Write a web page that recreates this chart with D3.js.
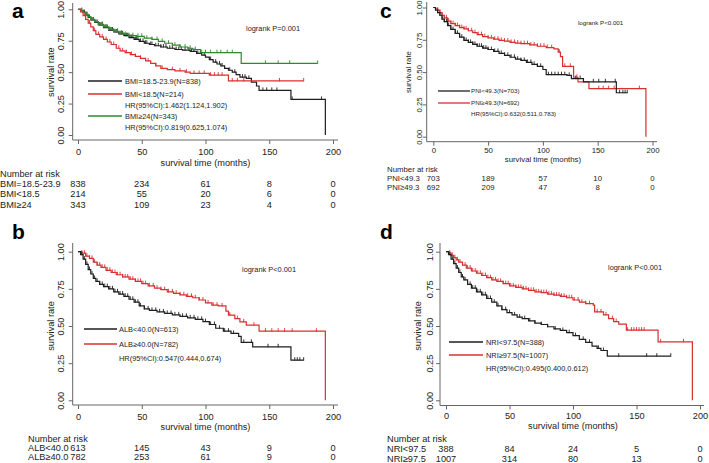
<!DOCTYPE html>
<html><head><meta charset="utf-8">
<script src="https://cdn.jsdelivr.net/npm/d3@7"></script>
<style>
body{margin:0;background:#fff}
svg{display:block}
text{font-family:"Liberation Sans",Arial,sans-serif;fill:#222}
</style>
</head><body>
<svg id="chart" width="709" height="463"></svg>
<script>
// ---------- shared ticks ----------
const timeTicks = [0, 50, 100, 150, 200];
const survTicks = [0, 0.25, 0.5, 0.75, 1];
const survTickLabels = ["0.00", "0.25", "0.50", "0.75", "1.00"];

// ---------- panel a : BMI ----------
const bmiNormalSteps = [[0,1],[2,0.99],[4,0.975],[6,0.955],[8,0.935],[10,0.915],[13,0.895],[16,0.875],[20,0.855],[24,0.835],[28,0.82],[32,0.805],[36,0.79],[40,0.775],[44,0.76],[48,0.745],[52,0.73],[56,0.72],[60,0.71],[65,0.70],[70,0.69],[76,0.68],[82,0.675],[88,0.665],[93,0.65],[97,0.635],[100,0.62],[103,0.60],[106,0.58],[109,0.565],[112,0.55],[115,0.53],[118,0.515],[121,0.50],[124,0.48],[127,0.46],[132,0.45],[136,0.42],[140,0.39],[142,0.355],[167,0.283],[194,0]];
const bmiLowSteps = [[0,1],[2,0.98],[4,0.95],[6,0.92],[8,0.89],[10,0.86],[12,0.83],[14,0.80],[17,0.78],[20,0.76],[23,0.74],[26,0.72],[30,0.69],[33,0.67],[37,0.655],[41,0.64],[45,0.625],[49,0.61],[53,0.59],[57,0.57],[61,0.55],[65,0.53],[70,0.52],[76,0.51],[84,0.50],[88,0.49],[103,0.476],[118,0.43],[177,0.43]];
const bmiHighSteps = [[0,1],[2,0.99],[4,0.975],[6,0.96],[8,0.94],[10,0.92],[13,0.90],[16,0.88],[20,0.86],[24,0.84],[28,0.825],[32,0.81],[36,0.80],[40,0.79],[46,0.785],[52,0.77],[58,0.76],[63,0.745],[68,0.73],[74,0.715],[80,0.70],[86,0.69],[90,0.68],[96,0.655],[128,0.57],[188,0.57]];
const bmiNormalCensor = [3,5,7,9,11,12,14,15,17,18,19,21,22,23,25,26,27,29,30,31,33,34,35,37,38,39,41,42,43,45,46,47,49,51,53,54,57,58,61,63,65,67,69,72,74,77,79,81,84,87,89,91,94,99,104,108,111,113,119,123,129,131,134,145,148,152,156,168,191];
const bmiLowCensor = [5,9,13,16,19,22,25,28,32,35,38,42,45,49,55,61,66,74,80,85,91,95,99,104,107,110,113,121,125,130,158,177];
const bmiHighCensor = [4,7,10,13,16,19,22,25,28,31,34,37,40,43,47,50,54,58,62,66,71,76,80,84,88,92,97,100,104,109,112,117,121,147,157,166,188];
const bmiRiskLabels = ["BMI=18.5-23.9", "BMI<18.5", "BMI\u226524"];
const bmiRisk = [[838,234,61,8,0],[214,55,20,6,0],[343,109,23,4,0]];
const bmiLegend = ["BMI=18.5-23.9(N=838)", "BMI<18.5(N=214)", "HR(95%CI):1.462(1.124,1.902)", "BMI\u226524(N=343)", "HR(95%CI):0.819(0.625,1.074)"];
const bmiP = "logrank P=0.001";

// ---------- panel b : ALB ----------
const albLowSteps = [[0,1],[2,0.98],[4,0.95],[6,0.915],[8,0.88],[10,0.85],[12,0.82],[14,0.80],[17,0.78],[20,0.765],[24,0.75],[28,0.73],[32,0.715],[36,0.70],[40,0.68],[44,0.66],[48,0.635],[52,0.615],[56,0.605],[62,0.595],[68,0.585],[74,0.575],[80,0.565],[86,0.555],[92,0.545],[98,0.53],[103,0.51],[108,0.485],[114,0.465],[120,0.45],[126,0.43],[128,0.39],[137,0.36],[167,0.27],[177,0.27]];
const albHighSteps = [[0,1],[3,0.99],[6,0.97],[9,0.955],[12,0.93],[15,0.91],[18,0.895],[22,0.875],[26,0.86],[30,0.845],[35,0.83],[40,0.815],[45,0.80],[50,0.785],[55,0.77],[60,0.755],[65,0.745],[70,0.73],[75,0.72],[80,0.71],[85,0.70],[90,0.69],[95,0.675],[100,0.655],[105,0.64],[110,0.635],[116,0.60],[118,0.573],[123,0.55],[127,0.528],[132,0.506],[142,0.465],[194,0]];
const albLowCensor = [3,5,7,9,11,13,15,17,19,21,23,25,27,29,31,33,35,37,39,41,43,45,47,49,52,55,58,61,64,67,70,73,76,79,82,85,88,91,94,97,100,104,107,111,115,118,122,130,136,149,157,170,172,174,177];
const albHighCensor = [3,5,7,9,11,13,15,17,19,21,23,25,27,29,31,33,35,37,39,41,43,45,47,49,51,53,56,59,62,65,68,71,74,77,80,83,86,89,92,95,98,102,106,109,113,119,125,130,138,147,152,157,162,168,187];
const albRiskLabels = ["ALB<40.0", "ALB\u226540.0"];
const albRisk = [[613,145,43,9,0],[782,253,61,9,0]];
const albLegend = ["ALB<40.0(N=613)", "ALB\u226540.0(N=782)", "HR(95%CI):0.547(0.444,0.674)"];
const albP = "logrank P<0.001";

// ---------- panel c : PNI ----------
const pniLowSteps = [[0,1],[2,0.98],[4,0.96],[6,0.94],[8,0.91],[10,0.89],[13,0.86],[16,0.83],[20,0.80],[24,0.77],[28,0.745],[32,0.73],[36,0.715],[40,0.70],[45,0.685],[50,0.675],[55,0.66],[60,0.645],[65,0.63],[70,0.615],[75,0.60],[80,0.59],[85,0.575],[90,0.56],[95,0.545],[100,0.52],[103,0.48],[122,0.475],[126,0.45],[137,0.425],[167,0.34],[177,0.34]];
const pniHighSteps = [[0,1],[2,0.99],[4,0.98],[6,0.96],[8,0.94],[10,0.92],[13,0.895],[16,0.875],[20,0.86],[24,0.845],[28,0.835],[32,0.82],[36,0.805],[40,0.79],[45,0.775],[50,0.765],[55,0.755],[60,0.745],[65,0.74],[70,0.73],[75,0.725],[80,0.72],[88,0.71],[95,0.70],[103,0.69],[110,0.68],[114,0.655],[116,0.62],[118,0.545],[128,0.46],[132,0.425],[142,0.372],[194,0]];
const pniLowCensor = [4,6,8,10,12,14,16,18,20,22,24,26,28,30,32,34,36,38,40,42,44,46,48,50,53,56,59,62,65,68,71,74,77,80,83,86,89,92,95,98,105,108,111,114,117,120,124,130,134,146,151,157,166,170,173,175,177];
const pniHighCensor = [4,6,8,10,12,14,16,18,20,22,24,26,28,30,32,35,38,41,44,47,50,53,56,59,62,65,68,71,74,77,80,83,86,89,92,95,98,101,104,108,115,120,125,131,151,155,160,165,188];
const pniRiskLabels = ["PNI<49.3", "PNI\u226549.3"];
const pniRisk = [[703,189,57,10,0],[692,209,47,8,0]];
const pniLegend = ["PNI<49.3(N=703)", "PNI\u226549.3(N=692)", "HR(95%CI):0.632(0.511,0.783)"];
const pniP = "logrank P<0.001";

// ---------- panel d : NRI ----------
const nriLowSteps = [[0,1],[2,0.98],[4,0.95],[6,0.92],[8,0.89],[10,0.86],[12,0.83],[14,0.81],[17,0.78],[20,0.755],[24,0.73],[28,0.71],[32,0.685],[36,0.66],[40,0.635],[44,0.61],[48,0.59],[52,0.575],[56,0.56],[60,0.55],[65,0.535],[70,0.52],[75,0.51],[80,0.495],[85,0.48],[90,0.47],[95,0.455],[100,0.435],[105,0.41],[110,0.39],[115,0.365],[119,0.35],[122,0.335],[127,0.297],[177,0.297]];
const nriHighSteps = [[0,1],[2,0.99],[4,0.975],[6,0.96],[8,0.945],[10,0.93],[13,0.91],[16,0.89],[20,0.87],[24,0.855],[28,0.84],[32,0.825],[36,0.81],[40,0.80],[45,0.785],[50,0.77],[55,0.76],[60,0.75],[65,0.74],[70,0.73],[75,0.725],[80,0.715],[85,0.708],[90,0.70],[95,0.69],[100,0.675],[105,0.66],[110,0.65],[116,0.64],[117,0.595],[124,0.575],[128,0.55],[132,0.53],[136,0.513],[142,0.472],[167,0.393],[194,0]];
const nriLowCensor = [3,5,7,9,11,13,15,17,19,21,23,25,27,29,31,33,35,38,41,44,47,50,54,58,62,66,70,75,80,86,92,97,102,108,113,120,124,136,158,166,177];
const nriHighCensor = [3,5,7,9,11,13,15,17,19,21,23,25,27,29,31,33,35,37,39,41,43,45,47,49,51,53,55,57,59,61,63,65,67,69,71,73,75,77,79,81,83,85,87,89,91,93,95,97,99,101,104,107,110,113,119,122,126,131,134,143,146,148,150,152,154,156,169,187];
const nriRiskLabels = ["NRI<97.5", "NRI\u226597.5"];
const nriRisk = [[388,84,24,5,0],[1007,314,80,13,0]];
const nriLegend = ["NRI<97.5(N=388)", "NRI\u226597.5(N=1007)", "HR(95%CI):0.495(0.400,0.612)"];
const nriP = "logrank P<0.001";

// ---------- colours ----------
const BLACK = "#1e1e1e", RED = "#d8302f", GREEN = "#2f8a2f";

const svg = d3.select("#chart");

function survAt(steps, t) {
  const i = d3.bisector(d => d[0]).right(steps, t) - 1;
  return steps[Math.max(0, i)][1];
}

function drawPanel(c) {
  const g = svg.append("g");
  const x = d3.scaleLinear().domain([0, 200]).range(c.xr);
  const y = d3.scaleLinear().domain([0, 1]).range(c.yr);
  const fs = c.fs;

  // panel letter
  g.append("text").attr("x", c.letter[1]).attr("y", c.letter[2])
    .style("font-size", "21px").style("font-weight", "bold").style("fill", "#000").text(c.letter[0]);

  // frame (L shape)
  g.append("path").attr("d", `M${c.frame.l},${c.frame.t}V${c.frame.b}H${c.frame.r}`)
    .attr("fill", "none").attr("stroke", "#666").attr("stroke-width", 1);

  // x axis
  const pad = c.xLabC - c.frame.b - 4 - 0.355 * fs;
  const xa = g.append("g").attr("transform", `translate(0,${c.frame.b})`)
    .call(d3.axisBottom(x).tickValues(timeTicks).tickSize(4).tickPadding(pad));
  xa.select(".domain").remove();
  xa.selectAll("line").attr("stroke", "#666");
  xa.selectAll("text").style("font-size", fs + "px").style("fill", "#222").attr("font-family", null);

  // y axis
  const ya = g.append("g").attr("transform", `translate(${c.frame.l},0)`)
    .call(d3.axisLeft(y).tickValues(survTicks).tickFormat((d, i) => survTickLabels[i]).tickSize(4));
  ya.select(".domain").remove();
  ya.selectAll("line").attr("stroke", "#666");
  ya.selectAll("text").attr("x", null).attr("dy", "0.35em").attr("text-anchor", "middle")
    .attr("transform", `translate(${c.yLabX - c.frame.l},0) rotate(-90)`)
    .style("font-size", fs + "px").style("fill", "#222");

  // axis titles
  g.append("text").attr("x", x(100)).attr("y", c.xTitleY).attr("text-anchor", "middle")
    .style("font-size", fs + "px").text("survival time (months)");
  g.append("text").attr("transform", `translate(${c.yTitleX},${(c.yr[0] + c.yr[1]) / 2}) rotate(-90)`)
    .attr("text-anchor", "middle").attr("dy", "0.35em").style("font-size", fs + "px").text("survival rate");

  // curves
  const line = d3.line().x(d => x(d[0])).y(d => y(d[1])).curve(d3.curveStepAfter);
  c.curves.forEach(cv => {
    g.append("path").attr("d", line(cv.steps)).attr("fill", "none")
      .attr("stroke", cv.color).attr("stroke-width", 1.2);
    g.append("g").selectAll("line").data(cv.censor).join("line")
      .attr("x1", d => x(d)).attr("x2", d => x(d))
      .attr("y1", d => y(survAt(cv.steps, d)) - 3).attr("y2", d => y(survAt(cv.steps, d)) + 0.5)
      .attr("stroke", cv.color).attr("stroke-width", 0.9);
  });

  // legend
  c.legend.forEach((it, i) => {
    const yy = c.legY[i];
    if (it.color) {
      g.append("line").attr("x1", c.legX[0]).attr("x2", c.legX[1]).attr("y1", yy).attr("y2", yy)
        .attr("stroke", it.color).attr("stroke-width", 1.3);
    }
    g.append("text").attr("x", c.legX[2]).attr("y", yy).attr("dy", "0.35em")
      .style("font-size", c.lfs + "px").text(it.text);
  });
  g.append("text").attr("x", c.p[1]).attr("y", c.p[2]).attr("dy", "0.35em")
    .style("font-size", c.lfs + "px").text(c.p[0]);

  // risk table
  g.append("text").attr("x", c.risk.x).attr("y", c.risk.ys[0]).style("font-size", c.rfs + "px").text("Number at risk");
  c.risk.labels.forEach((lab, i) => {
    const yy = c.risk.ys[i + 1];
    g.append("text").attr("x", c.risk.x).attr("y", yy).style("font-size", c.rfs + "px").text(lab);
    g.append("g").selectAll("text").data(c.risk.values[i]).join("text")
      .attr("x", (d, j) => x(timeTicks[j])).attr("y", yy).attr("text-anchor", "middle")
      .style("font-size", c.rfs + "px").text(d => d);
  });
}

drawPanel({
  letter: ["a", 12, 18],
  xr: [78, 333], yr: [135, 9.3],
  frame: {l: 72.7, t: 3, b: 140, r: 338},
  fs: 9.2, lfs: 7.4, rfs: 9.2,
  xLabC: 151.7, xTitleY: 165.5, yLabX: 61, yTitleX: 51,
  curves: [
    {steps: bmiNormalSteps, censor: bmiNormalCensor, color: BLACK},
    {steps: bmiHighSteps, censor: bmiHighCensor, color: GREEN},
    {steps: bmiLowSteps, censor: bmiLowCensor, color: RED}
  ],
  legend: [
    {text: bmiLegend[0], color: BLACK}, {text: bmiLegend[1], color: RED},
    {text: bmiLegend[2]}, {text: bmiLegend[3], color: GREEN}, {text: bmiLegend[4]}
  ],
  legY: [81, 94, 105.5, 116, 127], legX: [88, 122, 125],
  p: [bmiP, 246, 28],
  risk: {x: 0, ys: [177, 187, 197, 208], labels: bmiRiskLabels, values: bmiRisk}
});

drawPanel({
  letter: ["b", 12, 239],
  xr: [78, 333], yr: [400.3, 251.7],
  frame: {l: 72.7, t: 243, b: 405, r: 338},
  fs: 9.2, lfs: 7.4, rfs: 9.2,
  xLabC: 416.7, xTitleY: 429.5, yLabX: 61, yTitleX: 51,
  curves: [
    {steps: albHighSteps, censor: albHighCensor, color: RED},
    {steps: albLowSteps, censor: albLowCensor, color: BLACK}
  ],
  legend: [{text: albLegend[0], color: BLACK}, {text: albLegend[1], color: RED}, {text: albLegend[2]}],
  legY: [329, 344, 358], legX: [84, 117, 119],
  p: [albP, 242, 269],
  risk: {x: 28, ys: [442, 450.5, 460], labels: albRiskLabels, values: albRisk}
});

drawPanel({
  letter: ["c", 380, 18],
  xr: [433.3, 652.5], yr: [136.7, 7.5],
  frame: {l: 426.7, t: 2, b: 141.7, r: 657},
  fs: 7.8, lfs: 6.2, rfs: 7.8,
  xLabC: 150.7, xTitleY: 162, yLabX: 419, yTitleX: 408,
  curves: [
    {steps: pniHighSteps, censor: pniHighCensor, color: RED},
    {steps: pniLowSteps, censor: pniLowCensor, color: BLACK}
  ],
  legend: [{text: pniLegend[0], color: BLACK}, {text: pniLegend[1], color: RED}, {text: pniLegend[2]}],
  legY: [91, 103, 114], legX: [438, 470, 471],
  p: [pniP, 578, 23],
  risk: {x: 387, ys: [172, 181, 190], labels: pniRiskLabels, values: pniRisk}
});

drawPanel({
  letter: ["d", 380, 239],
  xr: [446, 700], yr: [400.3, 251.7],
  frame: {l: 440, t: 243, b: 405.5, r: 704},
  fs: 9.2, lfs: 7.4, rfs: 9.2,
  xLabC: 416, xTitleY: 428.5, yLabX: 430, yTitleX: 418,
  curves: [
    {steps: nriHighSteps, censor: nriHighCensor, color: RED},
    {steps: nriLowSteps, censor: nriLowCensor, color: BLACK}
  ],
  legend: [{text: nriLegend[0], color: BLACK}, {text: nriLegend[1], color: RED}, {text: nriLegend[2]}],
  legY: [342, 355, 368], legX: [449, 483, 486],
  p: [nriP, 608, 267],
  risk: {x: 387, ys: [442, 452, 462], labels: nriRiskLabels, values: nriRisk}
});
</script>
</body></html>
